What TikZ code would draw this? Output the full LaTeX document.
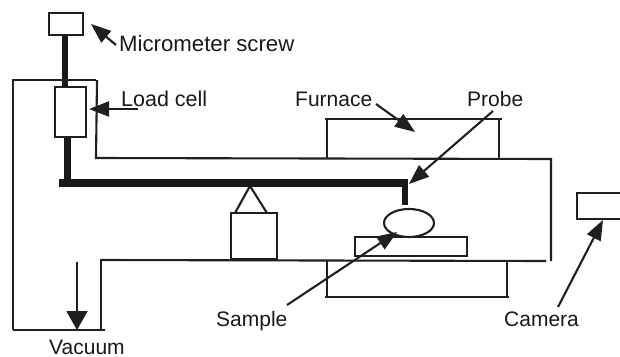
\documentclass[tikz,border=0pt]{standalone}
\usepackage{fontspec}
\setmainfont{Liberation Sans}
\usetikzlibrary{arrows.meta,shapes.geometric}
\begin{document}
\begin{tikzpicture}[x=1pt,y=-1pt,
  line/.style={draw=black!88,line width=2.1pt},
  rod/.style={draw=none,fill=black!90},
  arrowline/.style={draw=black!88,line width=2.1pt,-{Triangle[length=20pt,width=15pt]},shorten >=0pt},
  lab/.style={font=\fontsize{21.5pt}{24pt}\selectfont,text=black!90,inner sep=0pt,anchor=base west}]
\useasboundingbox (0,0) rectangle (620,356);
\fill[white] (0,0) rectangle (620,356);
% rods
\fill[rod] (62,35) rectangle (68,87);
\fill[rod] (64,137) rectangle (71,180);
\fill[rod] (59,179) rectangle (408,187);
\fill[rod] (402,187) rectangle (408,205);
% chamber
\draw[line] (96,80) -- (13,80) -- (13,330);
\draw[line] (105,330) -- (13,330);
\draw[line] (97,80) -- (96,158) -- (551,159) -- (551,261);
\draw[line] (101,330) -- (101,259);
\draw[line] (101,260) -- (546,261);
% furnace
\draw[line] (325,119) -- (502,119);
\draw[line] (327,119) -- (327,159);
\draw[line] (499,119) -- (499,159);
\draw[line] (327,261) -- (327,297);
\draw[line] (507,261) -- (507,297);
\draw[line] (325,297) -- (509,297);
% boxes
\node[line,fill=white,minimum width=34pt,minimum height=22pt,inner sep=0pt] (micro) at (66,24) {};
\node[line,fill=white,minimum width=31pt,minimum height=50pt,inner sep=0pt] (cell) at (70.5,112) {};
\node[line,minimum width=46pt,minimum height=46pt,inner sep=0pt] (support) at (254,236) {};
\node[line,minimum width=112pt,minimum height=19pt,inner sep=0pt] (plate) at (411,246.5) {};
\node[line,fill=white,ellipse,minimum width=50pt,minimum height=28pt,inner sep=0pt] (sample) at (409,223) {};
\draw[line] (622,193) -- (577,193) -- (577,219) -- (622,219);
\draw[line] (235,213) -- (250,186) -- (267,213);
% labels
\node[lab,font=\fontsize{22.2pt}{24pt}\selectfont] (lmicro) at (119,51) {Micrometer screw};
\node[lab] (lcell) at (121,106) {Load cell};
\node[lab,font=\fontsize{21pt}{24pt}\selectfont] (lfurn) at (295,106) {Furnace};
\node[lab,font=\fontsize{21pt}{24pt}\selectfont] (lprobe) at (467,106) {Probe};
\node[lab,font=\fontsize{21pt}{24pt}\selectfont] (lsample) at (216,326) {Sample};
\node[lab,font=\fontsize{21pt}{24pt}\selectfont] (lcam) at (504,326) {Camera};
\node[lab,font=\fontsize{21pt}{24pt}\selectfont] (lvac) at (49,354) {Vacuum};
% arrows
\coordinate (a1) at (116,45); \coordinate (a1e) at (91,24);
\coordinate (a2) at (138,109); \coordinate (a2e) at (89,109);
\coordinate (a3) at (376,104); \coordinate (a3e) at (415,132);
\coordinate (a4) at (493,111); \coordinate (a4e) at (409,184);
\coordinate (a5) at (287,305); \coordinate (a5e) at (397,232);
\coordinate (a6) at (558,307); \coordinate (a6e) at (603,220);
\coordinate (a7) at (77,262); \coordinate (a7e) at (77,330);
\draw[arrowline] (a1) -- (a1e);
\draw[arrowline] (a2) -- (a2e);
\draw[arrowline] (a3) -- (a3e);
\draw[arrowline] (a4) -- (a4e);
\draw[arrowline] (a5) -- (a5e);
\draw[arrowline] (a6) -- (a6e);
\draw[arrowline,-{Triangle[length=19pt,width=21pt]}] (a7) -- (a7e);
\end{tikzpicture}
\end{document}
